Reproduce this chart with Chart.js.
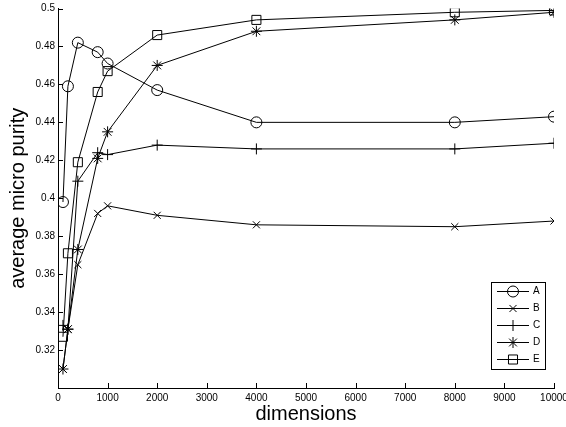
<!DOCTYPE html>
<html>
<head>
<meta charset="utf-8">
<script src="https://cdn.jsdelivr.net/npm/chart.js@4.4.0/dist/chart.umd.min.js"></script>
<style>
html,body{margin:0;padding:0;background:#fff;}
#wrap{width:566px;height:427px;position:relative;}
</style>
</head>
<body>
<div id="wrap"><canvas id="c" width="566" height="427"></canvas></div>
<script>
const dims = [100, 200, 400, 800, 1000, 2000, 4000, 8000, 10000];
const seriesNames = ['A', 'B', 'C', 'D', 'E'];
const valuesA = [0.398, 0.459, 0.482, 0.477, 0.471, 0.457, 0.440, 0.440, 0.443];
const valuesB = [0.310, 0.331, 0.365, 0.392, 0.396, 0.391, 0.386, 0.385, 0.388];
const valuesC = [0.333, 0.331, 0.409, 0.424, 0.423, 0.428, 0.426, 0.426, 0.429];
const valuesD = [0.310, 0.331, 0.373, 0.421, 0.435, 0.470, 0.488, 0.494, 0.498];
const valuesE = [0.327, 0.371, 0.419, 0.456, 0.467, 0.486, 0.494, 0.498, 0.499];
const xTicks = [0, 1000, 2000, 3000, 4000, 5000, 6000, 7000, 8000, 9000, 10000];
const yTicks = [0.32, 0.34, 0.36, 0.38, 0.40, 0.42, 0.44, 0.46, 0.48, 0.50];

const markerStyles = ['circle', 'crossRot', 'cross', 'star', 'rect'];
const markerRadius = [5.5, 5, 5.5, 5.5, 6.4];
const allValues = [valuesA, valuesB, valuesC, valuesD, valuesE];

const FONT = "'Liberation Sans', Arial, Helvetica, sans-serif";

const datasets = allValues.map((vals, i) => ({
  label: seriesNames[i],
  data: dims.map((d, j) => ({x: d, y: vals[j]})),
  borderColor: '#000',
  borderWidth: 1,
  backgroundColor: 'transparent',
  pointStyle: markerStyles[i],
  pointRadius: markerRadius[i],
  pointHoverRadius: markerRadius[i],
  pointBorderColor: '#000',
  pointBackgroundColor: 'rgba(0,0,0,0)',
  pointBorderWidth: 1,
  tension: 0,
  fill: false
}));

function drawMarker(ctx, style, r, x, y) {
  ctx.save();
  ctx.strokeStyle = '#000';
  ctx.lineWidth = 1;
  ctx.fillStyle = 'rgba(0,0,0,0)';
  if (Chart.helpers && Chart.helpers.drawPoint) {
    Chart.helpers.drawPoint(ctx, {pointStyle: style, radius: r, rotation: 0, borderWidth: 1}, x, y);
  }
  ctx.restore();
}

const axisTicksPlugin = {
  id: 'axisTicks',
  afterDraw(chart) {
    const ctx = chart.ctx;
    const xs = chart.scales.x, ys = chart.scales.y;
    const ca = chart.chartArea;
    ctx.save();
    ctx.strokeStyle = '#000';
    ctx.lineWidth = 1;
    ctx.beginPath();
    xTicks.forEach(t => {
      const px = Math.round(xs.getPixelForValue(t)) + 0.5;
      ctx.moveTo(px, ca.bottom);
      ctx.lineTo(px, ca.bottom - 5);
    });
    yTicks.forEach(t => {
      const py = Math.round(ys.getPixelForValue(t)) + 0.5;
      ctx.moveTo(ca.left, py);
      ctx.lineTo(ca.left + 5, py);
    });
    ctx.stroke();
    ctx.restore();
  }
};

const legendPlugin = {
  id: 'boxLegend',
  afterDraw(chart) {
    const ctx = chart.ctx;
    const bx = 491.5, by = 282.5, bw = 54, bh = 87;
    ctx.save();
    ctx.fillStyle = '#fff';
    ctx.fillRect(bx, by, bw, bh);
    ctx.strokeStyle = '#000';
    ctx.lineWidth = 1;
    ctx.strokeRect(bx, by, bw, bh);
    ctx.font = '10px ' + FONT;
    ctx.textBaseline = 'middle';
    ctx.textAlign = 'left';
    seriesNames.forEach((n, i) => {
      const y = 291.5 + i * 17;
      ctx.beginPath();
      ctx.moveTo(497, y);
      ctx.lineTo(529, y);
      ctx.strokeStyle = '#000';
      ctx.stroke();
      drawMarker(ctx, markerStyles[i], markerRadius[i], 513, y);
      ctx.fillStyle = '#000';
      ctx.fillText(n, 533, y);
    });
    ctx.restore();
  }
};

new Chart(document.getElementById('c'), {
  type: 'line',
  data: {datasets},
  options: {
    responsive: false,
    animation: false,
    devicePixelRatio: 1,
    layout: {padding: {top: 8.5, right: 12, left: 0, bottom: 0}},
    plugins: {legend: {display: false}, tooltip: {enabled: false}},
    scales: {
      x: {
        type: 'linear',
        min: 0, max: 10000,
        afterBuildTicks(s) { s.ticks = xTicks.map(v => ({value: v})); },
        afterFit(s) { s.height = 39; s.paddingLeft = 0; s.paddingRight = 0; },
        grid: {display: false, drawTicks: false},
        border: {display: true, color: '#000', width: 1},
        ticks: {
          color: '#000', padding: 4, maxRotation: 0, autoSkip: false,
          font: {family: FONT, size: 10},
          callback: v => String(v)
        },
        title: {
          display: true, text: 'dimensions', color: '#000',
          font: {family: FONT, size: 20}, padding: {top: 0, bottom: 1}
        }
      },
      y: {
        type: 'linear',
        min: 0.30, max: 0.50,
        afterBuildTicks(s) { s.ticks = yTicks.map(v => ({value: v})); },
        afterFit(s) { s.width = 58; s.paddingTop = 0; s.paddingBottom = 0; },
        grid: {display: false, drawTicks: false},
        border: {display: true, color: '#000', width: 1},
        ticks: {
          color: '#000', padding: 3, autoSkip: false,
          font: {family: FONT, size: 10},
          callback: v => String(parseFloat(v.toFixed(2)))
        },
        title: {
          display: true, text: 'average micro purity', color: '#000',
          font: {family: FONT, size: 20}, padding: {top: 6, bottom: 0}
        }
      }
    }
  },
  plugins: [axisTicksPlugin, legendPlugin]
});
</script>
</body>
</html>
